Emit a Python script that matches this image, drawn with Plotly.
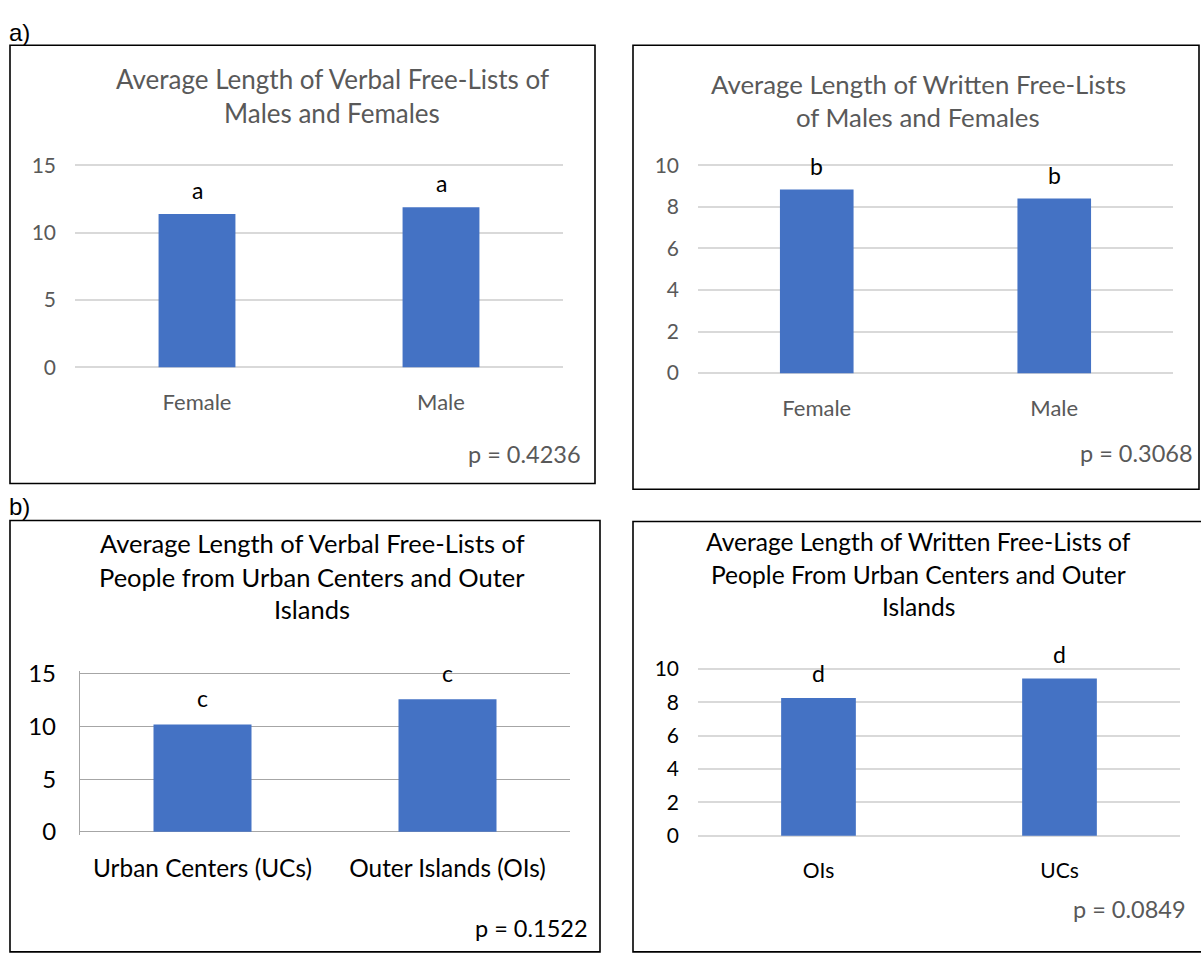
import plotly.graph_objects as go

W, H = 1201, 958

# ---------------- data ----------------
p1_categories = ["Female", "Male"]
p1_values = [11.38, 11.88]
p1_letters = ["a", "a"]
p1_title = ["Average Length of Verbal Free-Lists of", "Males and Females"]
p1_p = "p = 0.4236"
p1_ticks = [0, 5, 10, 15]

p2_categories = ["Female", "Male"]
p2_values = [8.83, 8.40]
p2_letters = ["b", "b"]
p2_title = ["Average Length of Written Free-Lists", "of Males and Females"]
p2_p = "p = 0.3068"
p2_ticks = [0, 2, 4, 6, 8, 10]

p3_categories = ["Urban Centers (UCs)", "Outer Islands (OIs)"]
p3_values = [10.19, 12.59]
p3_letters = ["c", "c"]
p3_title = ["Average Length of Verbal Free-Lists of",
            "People from Urban Centers and Outer", "Islands"]
p3_p = "p = 0.1522"
p3_ticks = [0, 5, 10, 15]

p4_categories = ["OIs", "UCs"]
p4_values = [8.25, 9.42]
p4_letters = ["d", "d"]
p4_title = ["Average Length of Written Free-Lists of",
            "People From Urban Centers and Outer", "Islands"]
p4_p = "p = 0.0849"
p4_ticks = [0, 2, 4, 6, 8, 10]

panel_labels = ["a)", "b)"]

# ---------------- helpers ----------------
def px(x):
    return x / W

def py(y):
    return 1 - y / H

FONT = "Lato"
BAR = "#4472C4"
GRAY = "#595959"

fig = go.Figure()
annotations = []
shapes = []

panels = [
    dict(cats=p1_categories, vals=p1_values, letters=p1_letters, title=p1_title,
         p=p1_p, ticks=p1_ticks, top=15,
         box=(10, 33, 595, 482), xd=(75, 563), yd=(363, 156),
         title_y=[68, 102], title_x=332, title_color=GRAY, title_size=26,
         tick_color=GRAY, tick_size=21, cat_color=GRAY, cat_size=22,
         grid="#D9D9D9", bw=0.315, letter_shift=24,
         p_x=583, p_y=452, p_color=GRAY, p_size=23.5, line=False),
    dict(cats=p2_categories, vals=p2_values, letters=p2_letters, title=p2_title,
         p=p2_p, ticks=p2_ticks, top=10,
         box=(633, 33, 1199, 488), xd=(698, 1173), yd=(369, 156),
         title_y=[73, 107], title_x=918, title_color=GRAY, title_size=25.8,
         tick_color=GRAY, tick_size=21, cat_color=GRAY, cat_size=22,
         grid="#D9D9D9", bw=0.31, letter_shift=24,
         p_x=1195, p_y=451, p_color=GRAY, p_size=23.5, line=False),
    dict(cats=p3_categories, vals=p3_values, letters=p3_letters, title=p3_title,
         p=p3_p, ticks=p3_ticks, top=15,
         box=(10, 520, 600, 962), xd=(80, 570), yd=(839, 677),
         title_y=[543, 578, 611], title_x=312, title_color="#000000", title_size=25.5,
         tick_color="#000000", tick_size=24, cat_color="#000000", cat_size=24.4,
         grid="#A6A6A6", bw=0.40, letter_shift=26,
         p_x=590, p_y=938, p_color="#000000", p_size=23.5, line=True),
    dict(cats=p4_categories, vals=p4_values, letters=p4_letters, title=p4_title,
         p=p4_p, ticks=p4_ticks, top=10,
         box=(633, 521, 1203, 962), xd=(698, 1180), yd=(843, 672),
         title_y=[542, 575, 608], title_x=918, title_color="#000000", title_size=24.6,
         tick_color="#000000", tick_size=21, cat_color="#000000", cat_size=21,
         grid="#D9D9D9", bw=0.31, letter_shift=25,
         p_x=1188, p_y=918, p_color=GRAY, p_size=23.5, line=False),
]

PAD = 3  # pixels of padding so edge gridlines are drawn

layout_axes = {}
for i, P in enumerate(panels, start=1):
    xa = "x" if i == 1 else f"x{i}"
    ya = "y" if i == 1 else f"y{i}"
    fig.add_trace(go.Bar(x=P["cats"], y=P["vals"], marker_color=BAR,
                         marker_line_width=0, width=P["bw"],
                         xaxis=xa, yaxis=ya, showlegend=False, hoverinfo="x+y"))
    xkey = "xaxis" if i == 1 else f"xaxis{i}"
    ykey = "yaxis" if i == 1 else f"yaxis{i}"
    y0px, ytpx = P["yd"]
    scale = (y0px - ytpx) / P["top"]
    eps = PAD / scale
    layout_axes[xkey] = dict(
        domain=[px(P["xd"][0]), px(P["xd"][1])], anchor=ya,
        showgrid=False, zeroline=False, showline=False, ticks="",
        tickfont=dict(family=FONT, size=P["cat_size"], color=P["cat_color"]),
        ticklabelstandoff=20 - PAD, fixedrange=True,
    )
    layout_axes[ykey] = dict(
        domain=[py(y0px + PAD), py(ytpx - PAD)], anchor=xa,
        range=[-eps, P["top"] + eps], tickvals=P["ticks"], showgrid=True,
        gridcolor=P["grid"], gridwidth=1.5 if not P["line"] else 1.3,
        zeroline=False, ticks="",
        showline=P["line"], linecolor="#A6A6A6", linewidth=1.3,
        tickfont=dict(family=FONT, size=P["tick_size"], color=P["tick_color"]),
        ticklabelstandoff=18, fixedrange=True,
    )
    # panel border
    x0, y0, x1, y1 = P["box"]
    shapes.append(dict(type="rect", xref="paper", yref="paper",
                       x0=px(x0), x1=px(x1), y0=py(y1), y1=py(y0),
                       line=dict(color="#000000", width=1.6),
                       fillcolor="rgba(0,0,0,0)", layer="above"))
    # title lines
    for line_text, ty in zip(P["title"], P["title_y"]):
        annotations.append(dict(text=line_text, xref="paper", yref="paper",
                                x=px(P["title_x"]), y=py(ty),
                                xanchor="center", yanchor="middle", showarrow=False,
                                font=dict(family=FONT, size=P["title_size"],
                                          color=P["title_color"])))
    # letters above bars
    for c, v, lt in zip(P["cats"], P["vals"], P["letters"]):
        annotations.append(dict(text=lt, xref=xa, yref=ya, x=c, y=v,
                                yshift=P["letter_shift"], xanchor="center",
                                yanchor="middle", showarrow=False,
                                font=dict(family=FONT, size=23, color="#000000")))
    # p value
    annotations.append(dict(text=P["p"], xref="paper", yref="paper",
                            x=px(P["p_x"]), y=py(P["p_y"]),
                            xanchor="right", yanchor="middle", showarrow=False,
                            font=dict(family=FONT, size=P["p_size"], color=P["p_color"])))

# panel letters
for lbl, ly in zip(panel_labels, [20, 506]):
    annotations.append(dict(text=lbl, xref="paper", yref="paper",
                            x=px(7), y=py(ly), xanchor="left", yanchor="middle",
                            showarrow=False,
                            font=dict(family="Liberation Sans", size=24, color="#000000")))

fig.update_layout(
    width=W, height=H,
    margin=dict(l=0, r=0, t=0, b=0),
    paper_bgcolor="white", plot_bgcolor="white",
    annotations=annotations, shapes=shapes,
    **layout_axes,
)

fig.write_html("out.html", config={"displayModeBar": False})
